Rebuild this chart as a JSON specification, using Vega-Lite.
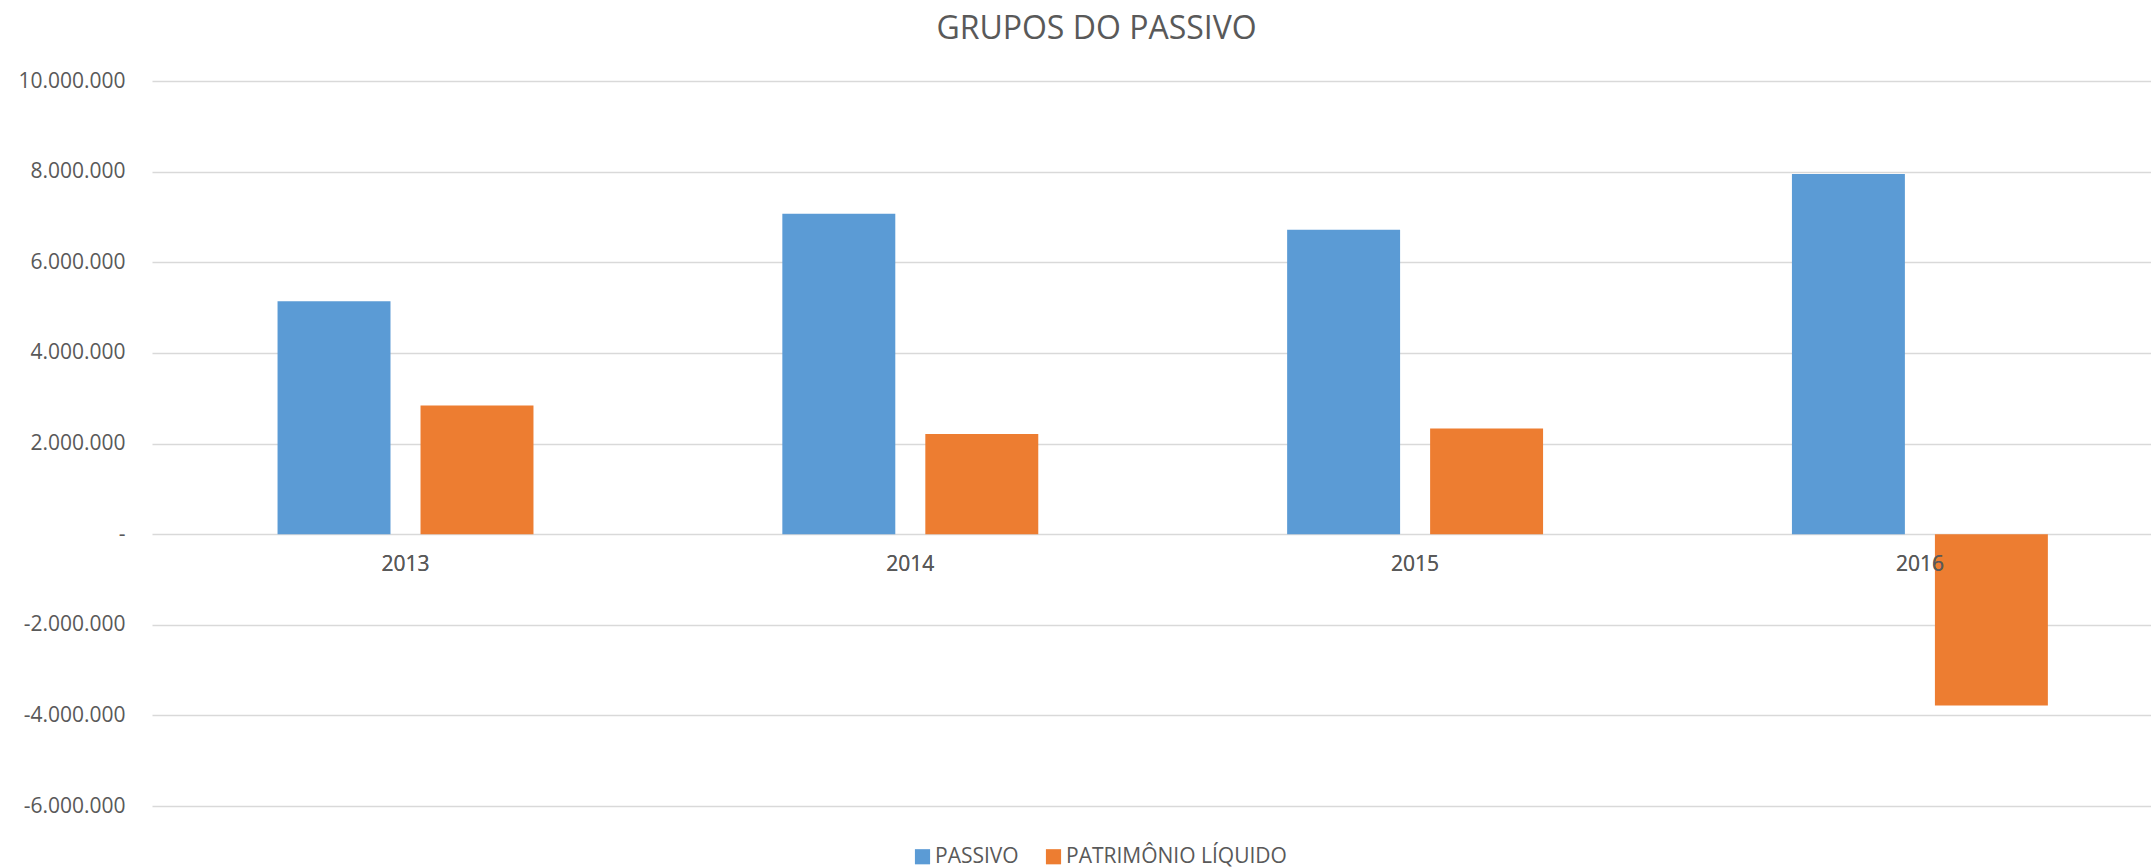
{
  "$schema": "https://vega.github.io/schema/vega-lite/v6.json",
  "autosize": {"type": "none"},
  "padding": {"left": 152, "top": 81, "right": 0, "bottom": 62},
  "width": 1999,
  "height": 725,
  "background": "white",
  "config": {
    "locale": {"number": {"decimal": ",", "thousands": ".", "grouping": [3], "currency": ["R$", ""], "minus": "-"}},
    "font": "Open Sans",
    "view": {"stroke": null}
  },
  "title": {
    "text": "GRUPOS DO PASSIVO",
    "fontSize": 32,
    "font": "Open Sans",
    "fontWeight": "normal",
    "color": "#595959",
    "anchor": "middle",
    "frame": "group",
    "dx": -55,
    "offset": 24
  },
  "data": {
    "values": [
      {"ano": "2013", "grupo": "PASSIVO", "valor": 5140000},
      {"ano": "2013", "grupo": "PATRIMÔNIO LÍQUIDO", "valor": 2840000},
      {"ano": "2014", "grupo": "PASSIVO", "valor": 7070000},
      {"ano": "2014", "grupo": "PATRIMÔNIO LÍQUIDO", "valor": 2210000},
      {"ano": "2015", "grupo": "PASSIVO", "valor": 6720000},
      {"ano": "2015", "grupo": "PATRIMÔNIO LÍQUIDO", "valor": 2330000},
      {"ano": "2016", "grupo": "PASSIVO", "valor": 7950000},
      {"ano": "2016", "grupo": "PATRIMÔNIO LÍQUIDO", "valor": -3780000}
    ]
  },
  "encoding": {
    "x": {
      "field": "ano",
      "type": "nominal",
      "scale": {"paddingInner": 0.493, "paddingOuter": 0.2265, "align": 0.549},
      "axis": null
    }
  },
  "layer": [
    {
      "mark": {"type": "bar"},
      "encoding": {
        "xOffset": {"field": "grupo", "type": "nominal", "scale": {"paddingInner": 0.21, "paddingOuter": 0}},
        "y": {
          "field": "valor",
          "type": "quantitative",
          "scale": {"domain": [-6000000, 10000000], "nice": false, "zero": false},
          "axis": {
            "title": null,
            "values": [-6000000, -4000000, -2000000, 0, 2000000, 4000000, 6000000, 8000000, 10000000],
            "labelExpr": "datum.value == 0 ? '-' : replace(format(datum.value, ',d'), '\u2212', '-')",
            "ticks": false,
            "domain": false,
            "grid": true,
            "gridColor": "#d9d9d9",
            "gridWidth": 1.5,
            "labelFontSize": 21,
            "labelColor": "#595959",
            "labelPadding": 27,
            "labelFont": "Open Sans"
          }
        },
        "color": {
          "field": "grupo",
          "type": "nominal",
          "scale": {"domain": ["PASSIVO", "PATRIMÔNIO LÍQUIDO"], "range": ["#5B9BD5", "#ED7D31"]},
          "legend": {
            "title": null,
            "orient": "none",
            "direction": "horizontal",
            "legendX": 760,
            "legendY": 765,
            "symbolType": "square",
            "symbolSize": 230,
            "symbolStrokeWidth": 0,
            "labelFontSize": 21,
            "labelColor": "#595959",
            "labelFont": "Open Sans",
            "labelOffset": 2,
            "labelLimit": 500,
            "columnPadding": 24
          }
        }
      }
    },
    {
      "mark": {"type": "text", "dy": 31, "fontSize": 21, "color": "#595959", "font": "Open Sans", "baseline": "middle"},
      "encoding": {
        "y": {"datum": 0},
        "text": {"field": "ano"}
      }
    }
  ]
}
